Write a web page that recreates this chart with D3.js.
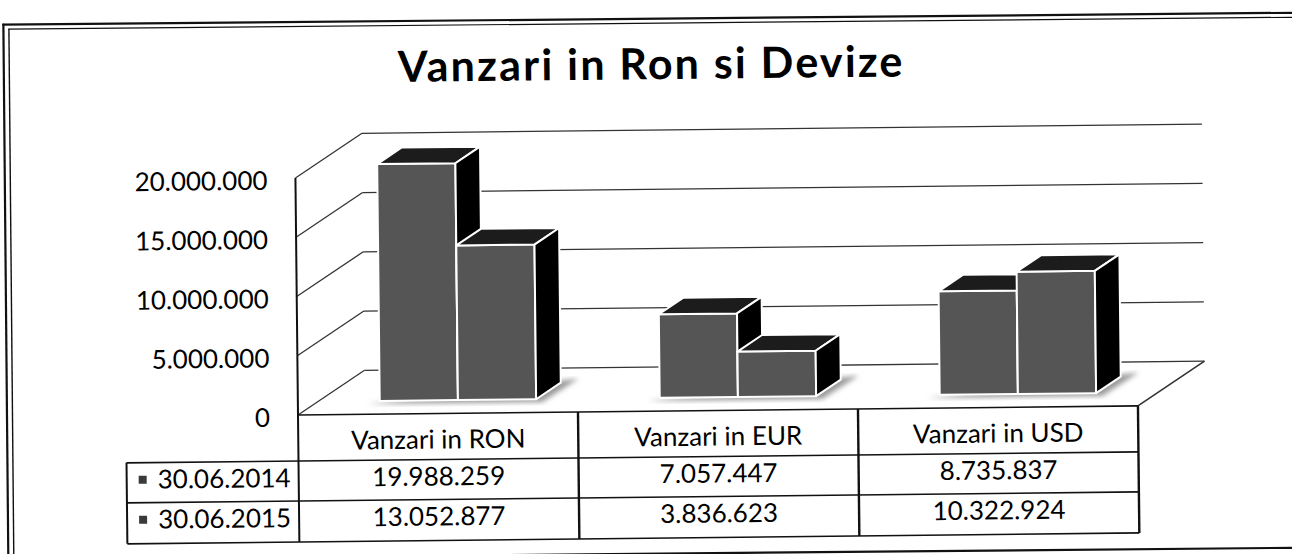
<!DOCTYPE html>
<html><head><meta charset="utf-8">
<script src="https://cdn.jsdelivr.net/npm/d3@7"></script>
<style>
html,body{margin:0;padding:0;background:#fff;}
svg{display:block;}
text{font-family:Lato,"Open Sans",sans-serif;fill:#000;}
</style>
</head><body>
<svg id="chart" width="1292" height="554"></svg>
<script>
// ---------- data ----------
const chartTitle = "Vanzari in Ron si Devize";
const categories = ["Vanzari in RON", "Vanzari in EUR", "Vanzari in USD"];
const seriesNames = ["30.06.2014", "30.06.2015"];
const values2014 = [19988259, 7057447, 8735837];
const values2015 = [13052877, 3836623, 10322924];
const yTicks = [0, 5000000, 10000000, 15000000, 20000000];

// ---------- setup ----------
const fmt = d3.formatLocale({decimal: ",", thousands: ".", grouping: [3], currency: ["", ""]}).format(",d");
const seriesValues = [values2014, values2015];
const rows = seriesNames.map((name, i) => ({name, values: seriesValues[i]}));

const X0 = 298, X1 = 1138, Y0 = 415, YTOP = 178;
const DX = 67, DY = -44;          // depth of floor / walls
const fF = 0.30, fD = 0.37;       // bar front depth fraction, bar depth fraction
const ROW1 = 461, ROW2 = 501, ROWB = 542;

const svg = d3.select("#chart");
const defs = svg.append("defs");
defs.append("filter").attr("id", "blur").append("feGaussianBlur").attr("stdDeviation", 2.5);

// ---------- frame (own slight skew of the scan) ----------
const frame = svg.append("g").attr("transform", "rotate(-0.53,297,415)").attr("stroke", "#111").attr("fill", "none");
frame.append("line").attr("x1", 6).attr("x2", 1320).attr("y1", 22).attr("y2", 22).attr("stroke-width", 2.2);
frame.append("line").attr("x1", 12).attr("x2", 1320).attr("y1", 26.5).attr("y2", 26.5).attr("stroke-width", 1.2);
frame.append("line").attr("x1", 7).attr("x2", 7).attr("y1", 21).attr("y2", 600).attr("stroke-width", 2.2);
frame.append("line").attr("x1", 12.5).attr("x2", 12.5).attr("y1", 26).attr("y2", 600).attr("stroke-width", 1.4);
frame.append("line").attr("x1", 7).attr("x2", 1320).attr("y1", 557).attr("y2", 557).attr("stroke-width", 2.2);

const g = svg.append("g").attr("transform", "rotate(-0.62,298,415)");

const x = d3.scaleBand().domain(categories).range([X0, X1]);
const xs = d3.scaleBand().domain(seriesNames).range([0, x.bandwidth()]).paddingInner(0).paddingOuter(0.79);
const y = d3.scaleLinear().domain([0, 20000000]).range([Y0, YTOP]);

// ---------- title ----------
g.append("text").attr("x", 655).attr("y", 83).attr("text-anchor", "middle")
  .style("font-size", "43px").style("font-weight", "700").style("letter-spacing", "2.2px").text(chartTitle);

// ---------- walls / grid ----------
const grid = g.append("g").attr("stroke", "#333").attr("stroke-width", 1.3).attr("fill", "none");
grid.selectAll(".gl").data(yTicks).join("line")
  .attr("x1", X0 + DX).attr("x2", X1 + DX)
  .attr("y1", d => y(d) + DY).attr("y2", d => y(d) + DY);
grid.selectAll(".dg").data(yTicks).join("line")
  .attr("x1", X0).attr("x2", X0 + DX)
  .attr("y1", d => y(d)).attr("y2", d => y(d) + DY);
grid.append("line").attr("x1", X1).attr("y1", Y0).attr("x2", X1 + DX).attr("y2", Y0 + DY).attr("stroke-width", 1.6);

// ---------- bars ----------
const bw = xs.bandwidth();
const bdx = DX * fD, bdy = DY * fD;
const fdx = DX * fF, fdy = DY * fF;

// shadows on floor
categories.forEach((c) => {
  const bx = x(c) + xs(seriesNames[0]) + fdx;
  const by = Y0 + fdy;
  const ex = x(c) + xs(seriesNames[1]) + bw + fdx;
  g.append("polygon")
    .attr("points", [[bx - 12, by + 3], [ex + 6, by + 3], [ex + bdx + 18, by + bdy - 4], [ex + bdx, by + bdy - 2]].map(p => p.join(",")).join(" "))
    .attr("fill", "#9a9a9a").attr("filter", "url(#blur)");
});

const bars = g.append("g").attr("stroke", "#fff").attr("stroke-width", 2).attr("stroke-linejoin", "round");
categories.forEach((c, ci) => {
  rows.forEach((r) => {
    const v = r.values[ci];
    const x0 = x(c) + xs(r.name) + fdx;
    const x1 = x0 + bw;
    const yt = y(v) + fdy;
    const yb = y(0) + fdy;
    bars.append("rect").attr("x", x0).attr("y", yt).attr("width", bw).attr("height", yb - yt).attr("fill", "#555");
    bars.append("polygon").attr("points", [[x0, yt], [x1, yt], [x1 + bdx, yt + bdy], [x0 + bdx, yt + bdy]].map(p => p.join(",")).join(" "))
      .attr("fill", "#1c1c1c");
    bars.append("polygon").attr("points", [[x1, yt], [x1 + bdx, yt + bdy], [x1 + bdx, yb + bdy], [x1, yb]].map(p => p.join(",")).join(" "))
      .attr("fill", "#000");
  });
});

// ---------- y axis labels ----------
const axis = g.append("g").attr("transform", `translate(${X0},0)`)
  .call(d3.axisLeft(y).tickValues(yTicks).tickFormat(fmt).tickSize(0).tickPadding(28));
axis.select(".domain").remove();
axis.selectAll("text").style("font-size", "26px").style("font-family", "Lato").attr("dy", "0.42em").attr("fill", "#000");

// ---------- data table ----------
const tbl = g.append("g").attr("stroke", "#111").attr("fill", "none");
tbl.append("line").attr("x1", X0).attr("x2", X1).attr("y1", Y0).attr("y2", Y0).attr("stroke-width", 1.6);
[ROW1, ROW2, ROWB].forEach(yy => tbl.append("line").attr("x1", 126).attr("x2", X1).attr("y1", yy).attr("y2", yy).attr("stroke-width", 1.6));
tbl.append("line").attr("x1", X0).attr("x2", X0).attr("y1", YTOP).attr("y2", ROWB).attr("stroke-width", 2);
tbl.append("line").attr("x1", 126).attr("x2", 126).attr("y1", ROW1).attr("y2", ROWB).attr("stroke-width", 2);
categories.forEach(c => tbl.append("line").attr("x1", x(c) + x.bandwidth()).attr("x2", x(c) + x.bandwidth())
  .attr("y1", Y0).attr("y2", ROWB).attr("stroke-width", 2.4));

const tt = g.append("g").style("font-size", "26px");
tt.selectAll(".hdr").data(categories).join("text")
  .attr("x", d => x(d) + x.bandwidth() / 2).attr("y", 450).attr("text-anchor", "middle").text(d => d);

const rowY = [ROW1, ROW2];
rows.forEach((r, ri) => {
  const base = rowY[ri] + 26;
  g.append("rect").attr("x", 138).attr("y", base - 13).attr("width", 8).attr("height", 8).attr("fill", "#3a3a3a");
  tt.append("text").attr("x", 157).attr("y", base).text(r.name);
  tt.selectAll(".v" + ri).data(categories).join("text")
    .attr("x", d => x(d) + x.bandwidth() / 2).attr("y", base).attr("text-anchor", "middle")
    .text((d, ci) => fmt(r.values[ci]));
});
</script>
</body></html>
